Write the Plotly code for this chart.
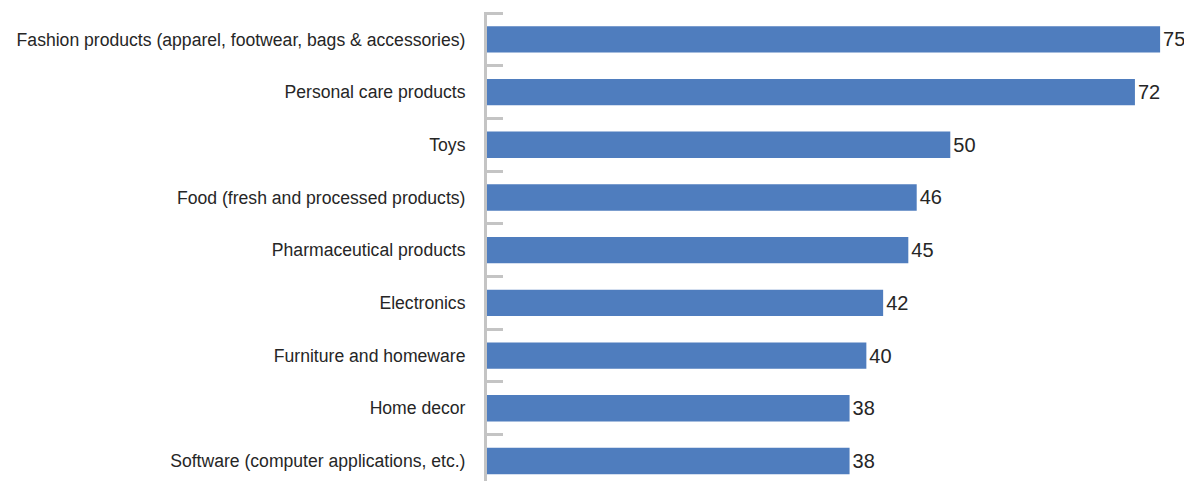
import plotly.graph_objects as go

categories = [
    "Fashion products (apparel, footwear, bags & accessories)",
    "Personal care products",
    "Toys",
    "Food (fresh and processed products)",
    "Pharmaceutical products",
    "Electronics",
    "Furniture and homeware",
    "Home decor",
    "Software (computer applications, etc.)",
]
values = [75, 72, 50, 46, 45, 42, 40, 38, 38]

AXIS_MIN = -5.2
AXIS_MAX = 78.8

cats = categories[::-1]
vals = values[::-1]

FONT = "Liberation Sans, Arial, sans-serif"

fig = go.Figure(
    go.Bar(
        y=cats,
        x=[v - AXIS_MIN for v in vals],
        base=AXIS_MIN,
        orientation="h",
        marker=dict(color="#4F7DBE", line=dict(width=0)),
        width=0.5,
        text=[str(v) for v in vals],
        textposition="outside",
        textfont=dict(family=FONT, size=20, color="#262626"),
        cliponaxis=False,
        hoverinfo="skip",
    )
)

# the page adds an 8px body margin, so the figure is 8px smaller
fig.update_layout(
    width=1184,
    height=473,
    margin=dict(l=479, r=0, t=4, b=0, autoexpand=False),
    paper_bgcolor="white",
    plot_bgcolor="white",
    showlegend=False,
    font=dict(family=FONT, size=17.6, color="#262626"),
)
fig.update_xaxes(
    range=[AXIS_MIN, AXIS_MAX],
    visible=False,
    showgrid=False,
    zeroline=False,
    automargin=False,
)
fig.update_yaxes(
    range=[-0.38, 8.52],
    automargin=False,
    showline=True,
    linecolor="#C4C4C4",
    linewidth=3,
    ticks="inside",
    tickson="boundaries",
    ticklen=16,
    tickwidth=3,
    tickcolor="#C4C4C4",
    showgrid=False,
    zeroline=False,
    ticklabelstandoff=15,
    tickfont=dict(family=FONT, size=17.6, color="#262626"),
)

fig.write_html("out.html")
